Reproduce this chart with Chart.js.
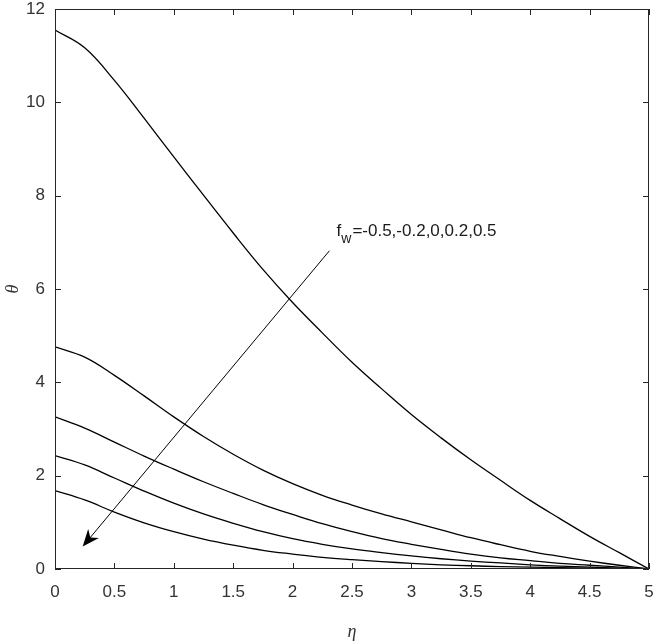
<!DOCTYPE html>
<html>
<head>
<meta charset="utf-8">
<script src="https://cdn.jsdelivr.net/npm/chart.js@4"></script>
<style>
  html, body { margin: 0; padding: 0; background: #fff; }
  #wrap { width: 656px; height: 644px; }
</style>
</head>
<body>
<div id="wrap"><canvas id="myChart" width="656" height="644"></canvas></div>
<script>
// eta grid and theta profiles for fw = -0.5, -0.2, 0, 0.2, 0.5
var eta = [0, 0.25, 0.5, 0.75, 1, 1.25, 1.5, 1.75, 2, 2.25, 2.5, 2.75, 3, 3.25, 3.5, 3.75, 4, 4.25, 4.5, 4.75, 5];
var thetaFwM05 = [11.55, 11.17, 10.47, 9.66, 8.83, 8.01, 7.20, 6.42, 5.71, 5.06, 4.43, 3.86, 3.31, 2.81, 2.34, 1.90, 1.47, 1.08, 0.70, 0.35, 0];
var thetaFwM02 = [4.76, 4.54, 4.15, 3.71, 3.26, 2.84, 2.46, 2.12, 1.83, 1.58, 1.37, 1.18, 1.01, 0.84, 0.67, 0.52, 0.38, 0.27, 0.17, 0.08, 0];
var thetaFw0   = [3.26, 3.02, 2.72, 2.42, 2.14, 1.87, 1.62, 1.38, 1.17, 0.97, 0.80, 0.65, 0.53, 0.42, 0.32, 0.24, 0.18, 0.12, 0.08, 0.04, 0];
var thetaFw02  = [2.43, 2.23, 1.95, 1.67, 1.41, 1.18, 0.98, 0.80, 0.65, 0.53, 0.43, 0.35, 0.28, 0.22, 0.17, 0.13, 0.09, 0.06, 0.04, 0.02, 0];
var thetaFw05  = [1.68, 1.48, 1.22, 0.99, 0.80, 0.64, 0.51, 0.40, 0.32, 0.25, 0.20, 0.16, 0.12, 0.09, 0.07, 0.05, 0.04, 0.03, 0.02, 0.01, 0];

var xTicks = [0, 0.5, 1, 1.5, 2, 2.5, 3, 3.5, 4, 4.5, 5];
var yTicks = [0, 2, 4, 6, 8, 10, 12];

// annotation arrow (data coords) and its label
var arrowFrom = [2.31, 6.82];
var arrowTo = [0.233, 0.48];
var labelAt = [2.37, 7.14];
var labelMain = 'f';
var labelSub = 'w';
var labelRest = '=-0.5,-0.2,0,0.2,0.5';

var axisColor = '#262626';

function toPoints(ys) {
    return eta.map(function (x, i) { return { x: x, y: ys[i] }; });
}

function curve(ys) {
    return {
        data: toPoints(ys),
        borderColor: '#000',
        borderWidth: 1.3,
        pointRadius: 0,
        fill: false,
        tension: 0.4
    };
}

var framePlugin = {
    id: 'frame',
    afterDatasetsDraw: function (chart) {
        var c = chart.ctx, a = chart.chartArea;
        var xs = chart.scales.x, ys = chart.scales.y;
        c.save();
        c.strokeStyle = axisColor;
        c.lineWidth = 1;
        c.strokeRect(a.left + 0.5, a.top + 0.5, a.right - a.left - 1, a.bottom - a.top - 1);
        var t = 6;
        c.beginPath();
        xTicks.forEach(function (v) {
            var px = Math.round(xs.getPixelForValue(v)) + 0.5;
            c.moveTo(px, a.bottom); c.lineTo(px, a.bottom - t);
            c.moveTo(px, a.top); c.lineTo(px, a.top + t);
        });
        yTicks.forEach(function (v) {
            var py = Math.round(ys.getPixelForValue(v)) + 0.5;
            c.moveTo(a.left, py); c.lineTo(a.left + t, py);
            c.moveTo(a.right, py); c.lineTo(a.right - t, py);
        });
        c.stroke();

        // arrow
        var x0 = xs.getPixelForValue(arrowFrom[0]), y0 = ys.getPixelForValue(arrowFrom[1]);
        var x1 = xs.getPixelForValue(arrowTo[0]), y1 = ys.getPixelForValue(arrowTo[1]);
        var ang = Math.atan2(y1 - y0, x1 - x0);
        var hl = 17, hw = 7;
        c.strokeStyle = '#000';
        c.lineWidth = 1;
        c.beginPath();
        c.moveTo(x0, y0);
        c.lineTo(x1 - Math.cos(ang) * 10, y1 - Math.sin(ang) * 10);
        c.stroke();
        c.translate(x1, y1);
        c.rotate(ang);
        c.fillStyle = '#000';
        c.beginPath();
        c.moveTo(0, 0);
        c.lineTo(-hl, -hw);
        c.lineTo(-hl * 0.7, 0);
        c.lineTo(-hl, hw);
        c.closePath();
        c.fill();
        c.setTransform(1, 0, 0, 1, 0, 0);

        // label
        var lx = xs.getPixelForValue(labelAt[0]), ly = ys.getPixelForValue(labelAt[1]);
        c.fillStyle = '#1a1a1a';
        c.textBaseline = 'alphabetic';
        c.textAlign = 'left';
        c.font = '17px "Liberation Sans", Arial, sans-serif';
        c.fillText(labelMain, lx, ly);
        var w1 = c.measureText(labelMain).width;
        c.font = '14px "Liberation Sans", Arial, sans-serif';
        c.fillText(labelSub, lx + w1, ly + 7);
        var w2 = c.measureText(labelSub).width;
        c.font = '17px "Liberation Sans", Arial, sans-serif';
        c.fillText(labelRest, lx + w1 + w2 + 1, ly);
        c.restore();
    }
};

var ctx = document.getElementById('myChart').getContext('2d');
var chart = new Chart(ctx, {
    type: 'line',
    data: {
        datasets: [curve(thetaFwM05), curve(thetaFwM02), curve(thetaFw0), curve(thetaFw02), curve(thetaFw05)]
    },
    options: {
        responsive: false,
        animation: false,
        events: [],
        layout: { padding: { left: 0, right: 7, top: 9, bottom: 0 } },
        plugins: { legend: { display: false }, tooltip: { enabled: false } },
        scales: {
            x: {
                type: 'linear',
                min: 0,
                max: 5,
                grid: { display: false, drawTicks: false },
                border: { display: false },
                afterBuildTicks: function (s) { s.ticks = xTicks.map(function (v) { return { value: v }; }); },
                afterFit: function (s) { s.height = 75; s.paddingLeft = 0; s.paddingRight = 0; },
                ticks: {
                    color: '#333',
                    padding: 13,
                    maxRotation: 0,
                    font: { family: '"Liberation Sans", Arial, sans-serif', size: 17 },
                    callback: function (v) { return String(v); }
                },
                title: {
                    display: true,
                    text: 'η',
                    color: '#333',
                    padding: { top: 0, bottom: 1 },
                    font: { family: '"Liberation Serif", "DejaVu Serif", serif', size: 18, style: 'italic' }
                }
            },
            y: {
                type: 'linear',
                min: 0,
                max: 12,
                grid: { display: false, drawTicks: false },
                border: { display: false },
                afterBuildTicks: function (s) { s.ticks = yTicks.map(function (v) { return { value: v }; }); },
                afterFit: function (s) { s.width = 55; s.paddingTop = 0; s.paddingBottom = 0; },
                ticks: {
                    color: '#333',
                    padding: 10,
                    font: { family: '"Liberation Sans", Arial, sans-serif', size: 17 },
                    callback: function (v) { return String(v); }
                },
                title: {
                    display: true,
                    text: 'θ',
                    color: '#333',
                    padding: { top: 2, bottom: 0 },
                    font: { family: '"Liberation Serif", "DejaVu Serif", serif', size: 18, style: 'italic' }
                }
            }
        }
    },
    plugins: [framePlugin]
});
</script>
</body>
</html>
